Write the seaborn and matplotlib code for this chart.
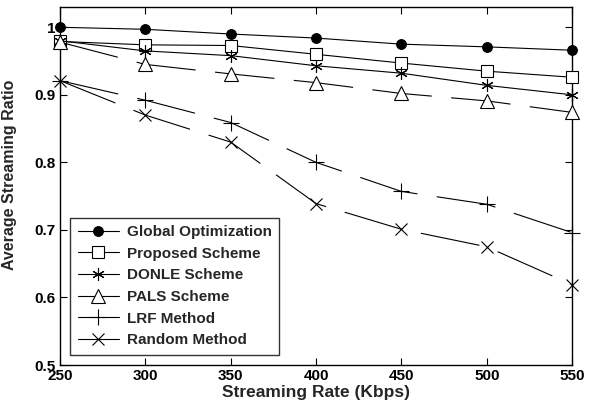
import matplotlib
matplotlib.use("Agg")
import matplotlib.pyplot as plt
import seaborn as sns
import pandas as pd

rates = [250, 300, 350, 400, 450, 500, 550]
global_opt = [1.000, 0.997, 0.990, 0.984, 0.975, 0.971, 0.966]
proposed = [0.979, 0.974, 0.973, 0.960, 0.947, 0.935, 0.926]
donle = [0.980, 0.965, 0.958, 0.943, 0.932, 0.914, 0.900]
pals = [0.978, 0.945, 0.931, 0.918, 0.902, 0.891, 0.874]
lrf = [0.921, 0.892, 0.859, 0.800, 0.757, 0.738, 0.696]
random_m = [0.921, 0.870, 0.830, 0.739, 0.701, 0.675, 0.619]

names = ["Global Optimization", "Proposed Scheme", "DONLE Scheme",
         "PALS Scheme", "LRF Method", "Random Method"]
series = [global_opt, proposed, donle, pals, lrf, random_m]

sns.set_theme(style="white")
plt.rcParams['font.family'] = ['Liberation Sans', 'DejaVu Sans']
plt.rcParams['font.weight'] = 'bold'
plt.rcParams['lines.scale_dashes'] = False

fig = plt.figure(figsize=(5.91, 4.12), dpi=100)
ax = fig.add_axes([0.1015, 0.114, 0.8665, 0.869])

styles = [
    dict(marker='o', ms=7, mfc='black', ls='-'),
    dict(marker='s', ms=8, mfc='white', ls='-'),
    dict(marker=(6, 2, 0), ms=9, mfc='none', ls='-'),
    dict(marker='^', ms=10, mfc='white', ls=(0, (43, 14))),
    dict(marker='+', ms=11, mfc='none', ls=(0, (43, 14))),
    dict(marker='x', ms=8, mfc='none', ls=(0, (43, 14))),
]

for name, vals, st in zip(names, series, styles):
    df = pd.DataFrame({"rate": rates, "ratio": vals})
    sns.lineplot(data=df, x="rate", y="ratio", ax=ax, color='black',
                 linewidth=0.8, marker=st['marker'], markersize=st['ms'],
                 markerfacecolor=st['mfc'], markeredgecolor='black',
                 markeredgewidth=0.8, linestyle=st['ls'], label=name,
                 clip_on=False, zorder=3)

ax.set_xlim(250, 550)
ax.set_ylim(0.5, 1.03)
ax.set_xticks([250, 300, 350, 400, 450, 500, 550])
ax.set_yticks([0.5, 0.6, 0.7, 0.8, 0.9, 1.0])
ax.set_yticklabels(["0.5", "0.6", "0.7", "0.8", "0.9", "1"])
ax.tick_params(direction='in', length=5, width=0.8, top=True, right=True,
               bottom=True, left=True, labelsize=11, colors='black', pad=3)
for lab in ax.get_xticklabels() + ax.get_yticklabels():
    lab.set_fontweight('bold')
for sp in ax.spines.values():
    sp.set_color('black')
    sp.set_linewidth(1.0)

ax.set_xlabel("Streaming Rate (Kbps)", fontsize=12.5, fontweight='bold', labelpad=1)
ax.set_ylabel("Average Streaming Ratio", fontsize=11.5, fontweight='bold')
ax.yaxis.set_label_coords(-0.083, 0.53)

leg = ax.legend(loc='lower left', bbox_to_anchor=(0.0195, 0.028),
                fontsize=11, frameon=True, fancybox=False, borderaxespad=0,
                handlelength=2.7, labelspacing=0.5, borderpad=0.5,
                handletextpad=0.5)
leg.get_frame().set_edgecolor('black')
leg.get_frame().set_linewidth(1.0)
for t in leg.get_texts():
    t.set_fontweight('bold')
for h in leg.get_lines():
    h.set_linestyle('-')

fig.savefig("out.png", dpi=100)
